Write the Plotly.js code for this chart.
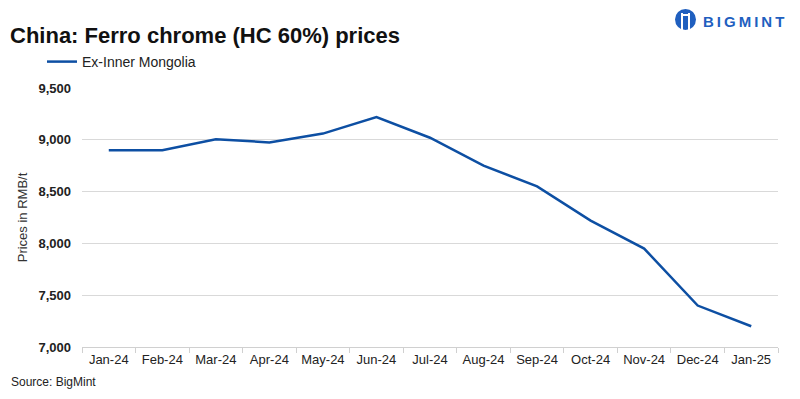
<!DOCTYPE html>
<html><head><meta charset="utf-8">
<script src="https://cdn.plot.ly/plotly-3.0.1.min.js"></script>
<style>html,body{margin:0;padding:0;background:#fff}#chart{width:800px;height:399px}</style>
</head><body><div id="chart"></div>
<script>
const months = ["Jan-24","Feb-24","Mar-24","Apr-24","May-24","Jun-24","Jul-24","Aug-24","Sep-24","Oct-24","Nov-24","Dec-24","Jan-25"];
const exInnerMongolia = [8900, 8900, 9005, 8975, 9060, 9220, 9020, 8750, 8550, 8220, 7950, 7400, 7200];
const yTicks = [7000, 7500, 8000, 8500, 9000, 9500];

// plot area in pixels: x 82..778, y 88..347
const px = v => (v - 82) / 696;
const py = v => (347 - v) / 259;

const trace = {
  x: months, y: exInnerMongolia, type: "scatter", mode: "lines",
  name: "Ex-Inner Mongolia",
  line: {color: "#0d4fa3", width: 2.5}
};
const layout = {
  width: 800, height: 399,
  margin: {l: 82, r: 22, t: 88, b: 52},
  paper_bgcolor: "#fff", plot_bgcolor: "#fff",
  font: {family: "Liberation Sans, Arial, sans-serif", color: "#222"},
  showlegend: true,
  legend: {x: px(42), xref: "paper", y: 1 - 62/399, yref: "container", yanchor: "middle", xanchor: "left",
    orientation: "h", font: {size: 14, color: "#222"},
    bgcolor: "rgba(0,0,0,0)"},
  xaxis: {type: "category", range: [-0.5, 12.5], showgrid: false, showline: true, linecolor: "#d0d0d0", linewidth: 1,
    ticks: "outside", tickson: "boundaries", ticklen: 5, tickcolor: "#d0d0d0",
    tickfont: {size: 13, color: "#222"}, fixedrange: true},
  yaxis: {range: [7000, 9500], tickvals: yTicks, tickformat: ",", showgrid: true, gridcolor: "#d9d9d9", gridwidth: 1,
    zeroline: false, showline: false, ticks: "", ticklabelstandoff: 10,
    tickfont: {size: 13, weight: "bold", color: "#222"},
    title: {text: "Prices in RMB/t", standoff: 7, font: {size: 13, color: "#333"}}},
  title: {text: "<b>China: Ferro chrome (HC 60%) prices</b>", x: 0, xref: "container", xanchor: "left",
    pad: {l: 10}, y: 1 - 35/399, yref: "container", yanchor: "middle",
    font: {size: 22, color: "#111"}},
  annotations: [
    {text: "Source: BigMint", xref: "paper", yref: "paper", x: px(9), y: py(382), showarrow: false,
      xanchor: "left", yanchor: "middle", font: {size: 12, color: "#222"}},
    {text: "<b>B\u2009I\u2009G\u2009M\u2009I\u2009N\u2009T</b>", xref: "paper", yref: "paper", x: px(786), y: py(21), showarrow: false,
      xanchor: "right", yanchor: "middle", font: {size: 15, color: "#1f5fbf"}}
  ],
  shapes: [
    {type: "circle", xref: "paper", yref: "paper", x0: px(675), x1: px(696), y0: py(30), y1: py(9), fillcolor: "#1f5fbf", line: {width: 0}},
    {type: "line", xref: "paper", yref: "paper", x0: px(682), x1: px(682), y0: py(13), y1: py(32), line: {color: "#ffffff", width: 2}},
    {type: "line", xref: "paper", yref: "paper", x0: px(689), x1: px(689), y0: py(13), y1: py(32), line: {color: "#ffffff", width: 2}},
    {type: "line", xref: "paper", yref: "paper", x0: px(681), x1: px(690), y0: py(15), y1: py(15), line: {color: "#ffffff", width: 2}}
  ]
};
Plotly.newPlot("chart", [trace], layout, {displayModeBar: false, staticPlot: true});
</script></body></html>
